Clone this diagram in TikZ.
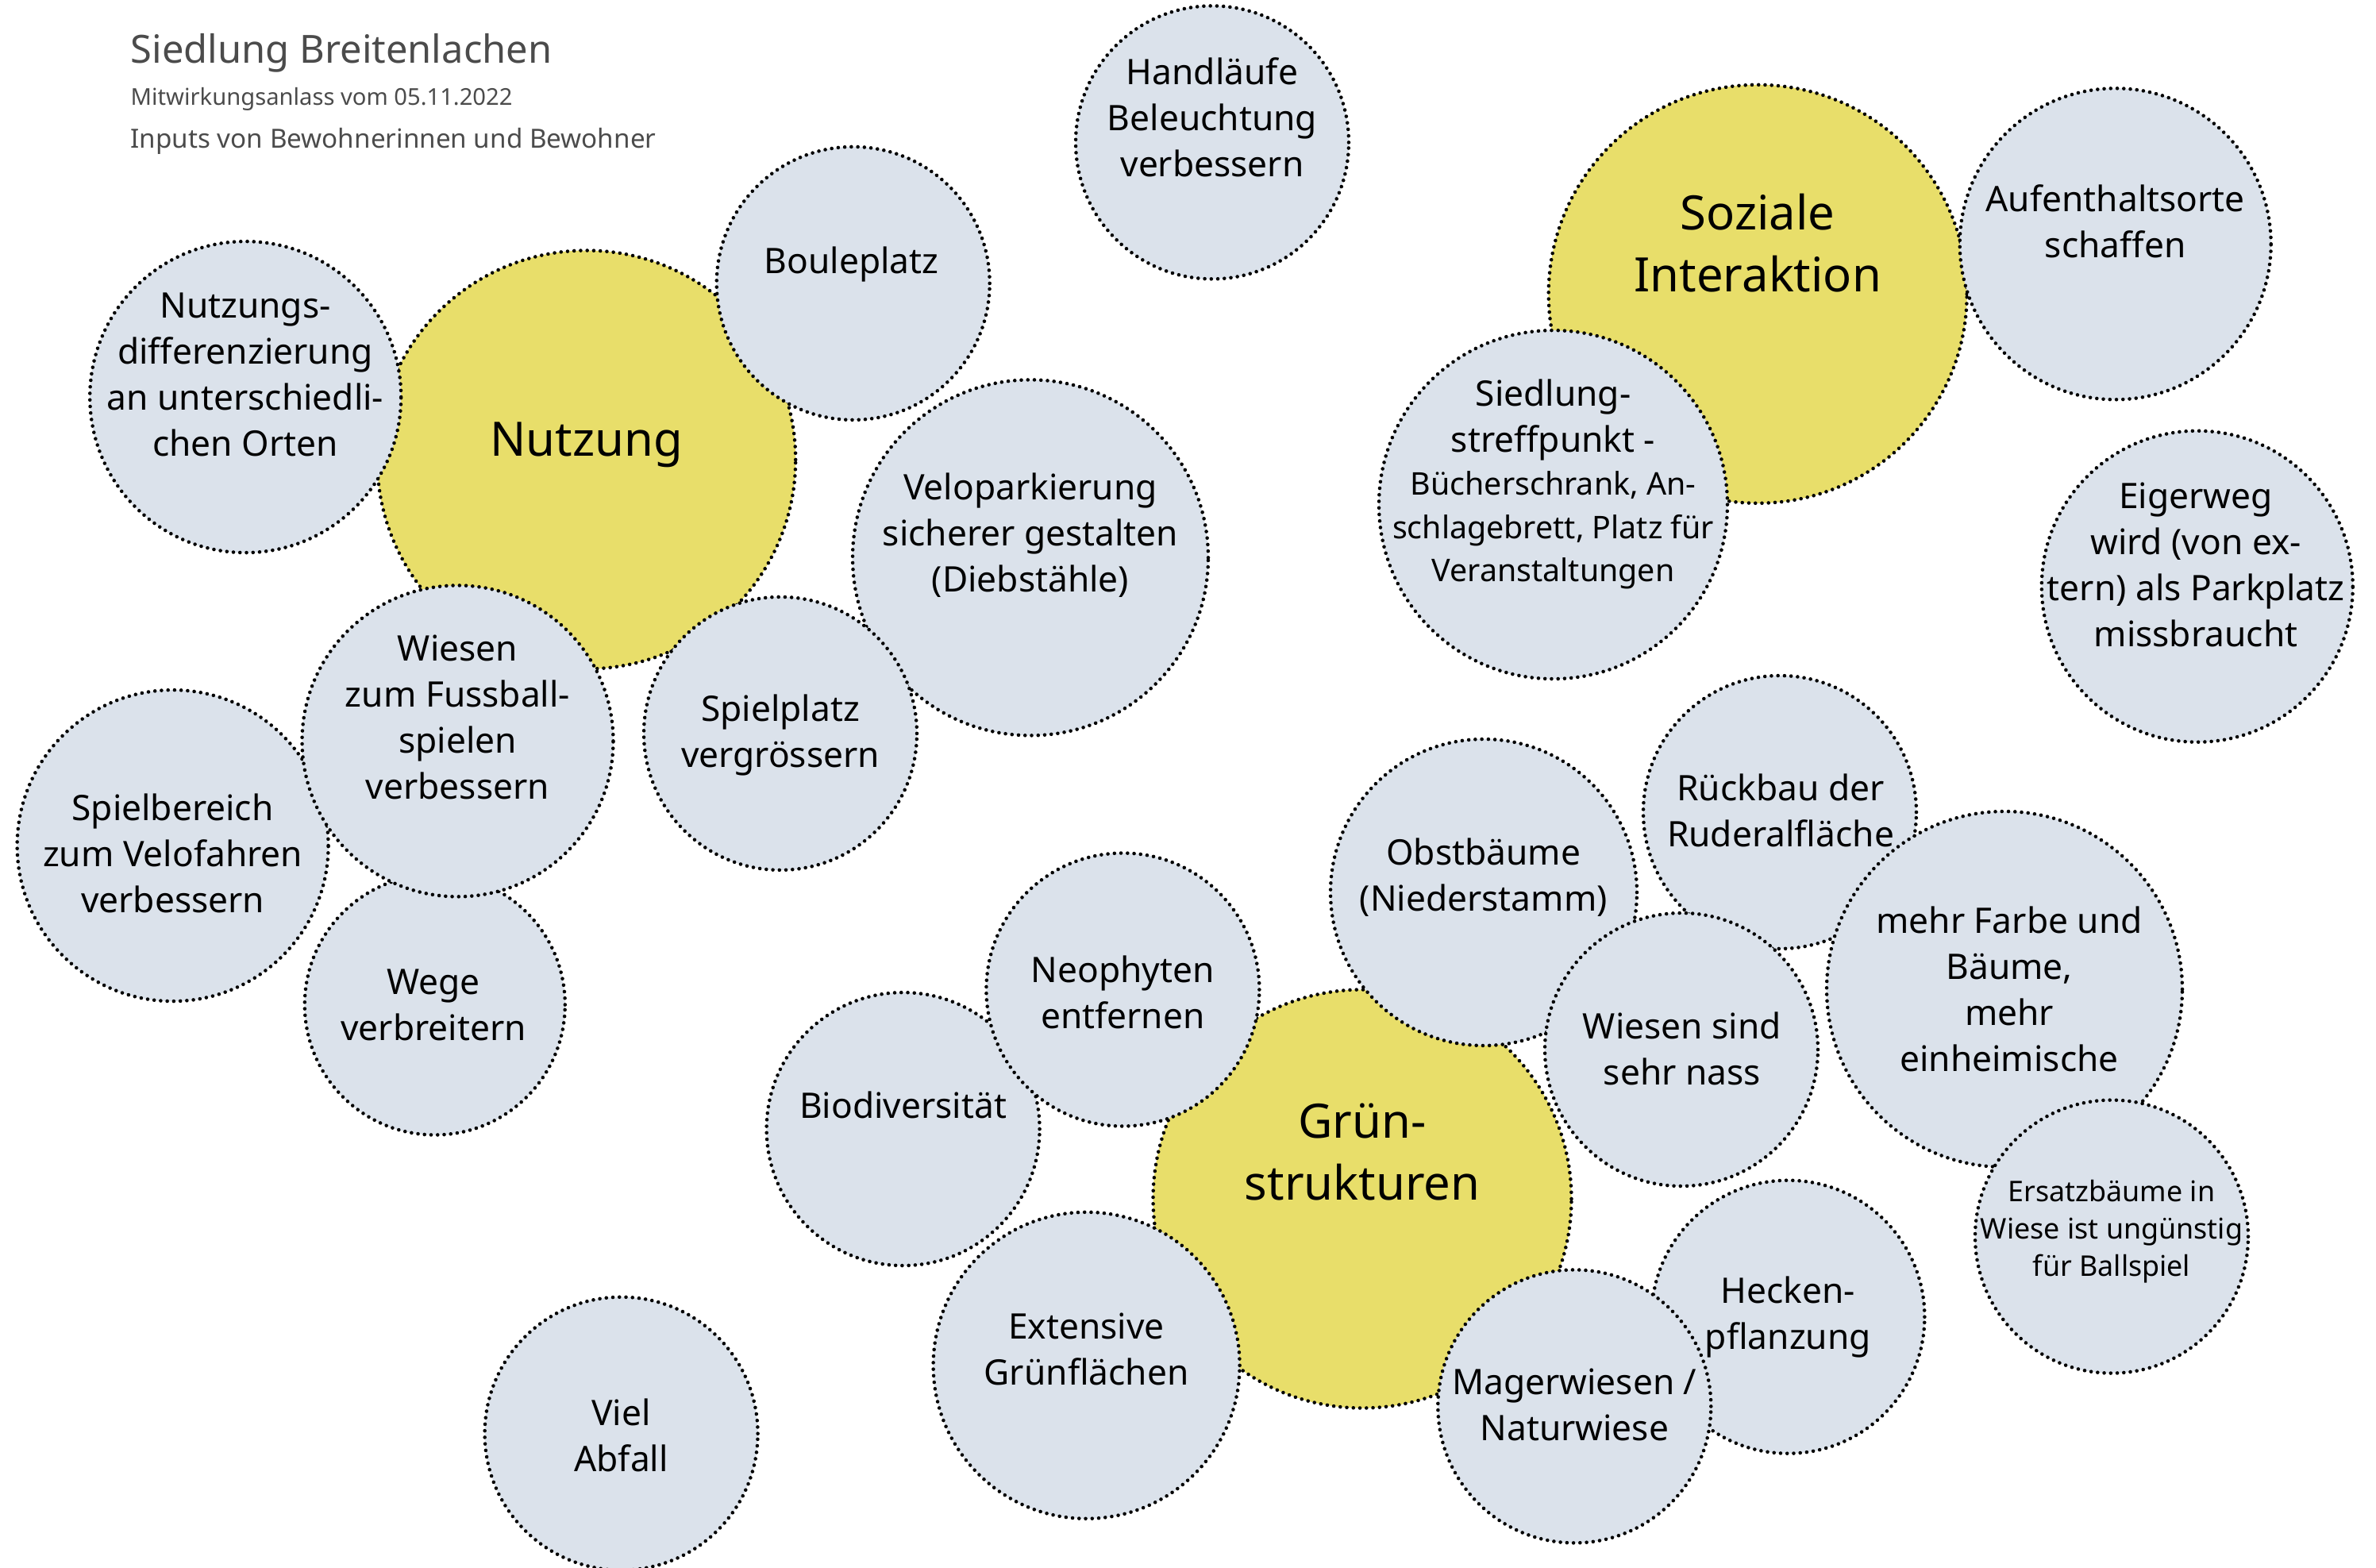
\documentclass[tikz,border=0pt]{standalone}
\usepackage{fontspec}
\setmainfont{Noto Sans}

\definecolor{bubblegray}{RGB}{219,226,235}
\definecolor{topicyellow}{RGB}{232,222,106}
\definecolor{titlegray}{RGB}{75,75,75}

\tikzstyle{bubble} = [circle, draw=black, fill=bubblegray, line width=1.3pt, dash pattern=on 0pt off 2.35pt, line cap=round, inner sep=0pt]
\tikzstyle{topic} = [bubble, fill=topicyellow, minimum size=5.27cm]
\tikzstyle{bsmall} = [bubble, minimum size=3.44cm]
\tikzstyle{bmid} = [bubble, minimum size=3.92cm]
\tikzstyle{blarge} = [bubble, minimum size=4.48cm]
\tikzstyle{txt} = [align=center, inner sep=0pt, font=\fontsize{12.6}{16.5}\selectfont]
\tikzstyle{bigtxt} = [align=center, inner sep=0pt, font=\fontsize{17}{22.3}\selectfont]
\tikzstyle{smalltxt} = [align=center, inner sep=0pt, font=\fontsize{10.2}{13.3}\selectfont]
\tikzstyle{head} = [anchor=base west, inner sep=0pt, text=titlegray]

\begin{document}
\begin{tikzpicture}
	\useasboundingbox (0,0) rectangle (29.93,-19.75);

	% heading
	\node[head, font=\fontsize{13.9}{17}\selectfont] (title) at (1.64,-0.80) {Siedlung Breitenlachen};
	\node[head, font=\fontsize{8.3}{10}\selectfont] (date) at (1.64,-1.33) {Mitwirkungsanlass vom 05.11.2022};
	\node[head, font=\fontsize{9.45}{11}\selectfont] (inputs) at (1.64,-1.87) {Inputs von Bewohnerinnen und Bewohner};

	% Nutzung
	\node[topic] (nutzung) at (7.387,-5.79) {};
	\node[bmid] (nutzdiff) at (3.092,-5.001) {};
	\node[bsmall] (boule) at (10.747,-3.569) {};
	\node[blarge] (velo) at (12.98,-7.024) {};
	\node[bsmall] (spielplatz) at (9.83,-9.239) {};
	\node[bmid] (spielbereich) at (2.176,-10.651) {};
	\node[bsmall, minimum size=3.28cm] (wege) at (5.478,-12.655) {};
	\node[bmid] (wiesenfuss) at (5.765,-9.334) {};

	\node[bigtxt] (nutzung-t) at (7.387,-5.60) {Nutzung};
	\node[txt] (nutzdiff-t) at (3.09,-4.72) {Nutzungs-\\differenzierung\\an unterschiedli-\\chen Orten};
	\node[txt] (boule-t) at (10.728,-3.33) {Bouleplatz};
	\node[txt] (velo-t) at (12.98,-6.744) {Veloparkierung\\sicherer gestalten\\(Diebstähle)};
	\node[txt] (spielplatz-t) at (9.83,-9.26) {Spielplatz\\vergrössern};
	\node[txt] (spielbereich-t) at (2.176,-10.747) {Spielbereich\\zum Velofahren\\verbessern};
	\node[txt] (wege-t) at (5.46,-12.655) {Wege\\verbreitern};
	\node[txt] (wiesenfuss-t) at (5.765,-9.038) {Wiesen\\zum Fussball-\\spielen\\verbessern};

	% Soziale Interaktion
	\node[topic] (soziale) at (22.142,-3.703) {};
	\node[bmid] (aufenthalt) at (26.647,-3.073) {};
	\node[blarge, minimum size=4.39cm] (treffpunkt) at (19.565,-6.356) {};

	\node[bigtxt] (soziale-t) at (22.142,-3.064) {Soziale\\Interaktion};
	\node[txt] (aufenthalt-t) at (26.647,-2.787) {Aufenthaltsorte\\schaffen};
	\node[txt] (treffpunkt-t) at (19.565,-6.10) {Siedlung-\\streffpunkt -\\[-1pt]{\fontsize{11.2}{14.4}\selectfont Bücherschrank, An-}\\[-1pt]{\fontsize{11.2}{14.4}\selectfont schlagebrett, Platz für}\\[-1pt]{\fontsize{11.2}{14.4}\selectfont Veranstaltungen}};

	% Grünstrukturen
	\node[topic] (gruen) at (17.16,-15.10) {};
	\node[bmid, minimum size=3.86cm] (obst) at (18.69,-11.24) {};
	\node[bsmall] (rueckbau) at (22.42,-10.23) {};
	\node[blarge] (mehrfarbe) at (25.25,-12.46) {};
	\node[bsmall] (wiesennass) at (21.18,-13.22) {};
	\node[bsmall] (ersatz) at (26.60,-15.576) {};
	\node[bsmall] (biodiv) at (11.376,-14.221) {};
	\node[bsmall] (neophyten) at (14.144,-12.465) {};
	\node[bmid, minimum size=3.86cm] (extensive) at (13.686,-17.198) {};
	\node[bsmall] (hecken) at (22.524,-16.587) {};
	\node[bsmall] (mager) at (19.833,-17.714) {};

	\node[bigtxt] (gruen-t) at (17.16,-14.507) {Grün-\\strukturen};
	\node[txt] (obst-t) at (18.687,-11.05) {Obstbäume\\(Niederstamm)};
	\node[txt] (rueckbau-t) at (22.43,-10.21) {Rückbau der\\Ruderalfläche};
	\node[txt] (mehrfarbe-t) at (25.31,-12.455) {mehr Farbe und\\Bäume,\\mehr\\einheimische};
	\node[txt] (wiesennass-t) at (21.188,-13.209) {Wiesen sind\\sehr nass};
	\node[smalltxt] (ersatz-t) at (26.60,-15.51) {Ersatzbäume in\\Wiese ist ungünstig\\für Ballspiel};
	\node[txt] (biodiv-t) at (11.376,-13.915) {Biodiversität};
	\node[txt] (neophyten-t) at (14.144,-12.50) {Neophyten\\entfernen};
	\node[txt] (extensive-t) at (13.686,-16.998) {Extensive\\Grünflächen};
	\node[txt] (hecken-t) at (22.524,-16.587) {Hecken-\\pflanzung};
	\node[txt] (mager-t) at (19.833,-17.695) {Magerwiesen /\\Naturwiese};

	% einzelne
	\node[bsmall] (handlaeufe) at (15.27,-1.794) {};
	\node[bmid] (eigerweg) at (27.678,-7.387) {};
	\node[bsmall] (abfall) at (7.826,-18.057) {};

	\node[txt] (handlaeufe-t) at (15.27,-1.48) {Handläufe\\Beleuchtung\\verbessern};
	\node[txt] (eigerweg-t) at (27.66,-7.11) {Eigerweg\\wird (von ex-\\tern) als Parkplatz\\missbraucht};
	\node[txt] (abfall-t) at (7.826,-18.076) {Viel\\Abfall};
\end{tikzpicture}
\end{document}
